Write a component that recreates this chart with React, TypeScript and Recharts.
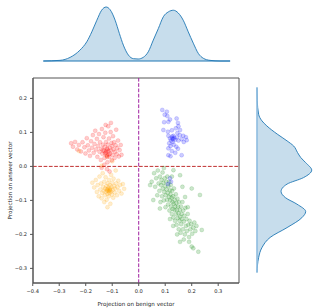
import React from "react";
import {
  ScatterChart,
  Scatter,
  AreaChart,
  Area,
  XAxis,
  YAxis,
  ReferenceLine,
  ReferenceArea,
  Label,
} from "recharts";

// marginal density on top (x projection)
const topX = [
  -0.36, -0.297, -0.259, -0.222, -0.196, -0.177, -0.158, -0.14, -0.123, -0.108, -0.089, -0.073,
  -0.058, -0.039, -0.02, -0.002, 0.017, 0.036, 0.055, 0.074, 0.093, 0.112, 0.131, 0.149, 0.168,
  0.187, 0.206, 0.225, 0.244, 0.269, 0.307, 0.345,
];
const topDensity = [
  0, 0.012, 0.067, 0.2, 0.356, 0.54, 0.755, 0.94, 1.0, 0.95, 0.755, 0.51, 0.294, 0.11, 0.043,
  0.037, 0.067, 0.17, 0.387, 0.6, 0.82, 0.91, 0.94, 0.89, 0.755, 0.54, 0.33, 0.14, 0.05, 0.012, 0,
  0,
];

// marginal density on the right (y projection)
const rightY = [
  -0.315, -0.276, -0.236, -0.217, -0.202, -0.178, -0.158, -0.143, -0.124, -0.109, -0.094, -0.072,
  -0.05, -0.031, -0.009, 0.009, 0.028, 0.05, 0.068, 0.097, 0.126, 0.156, 0.185, 0.229,
];
const rightDensity = [
  0, 0.005, 0.03, 0.09, 0.18, 0.37, 0.55, 0.67, 0.74, 0.8, 0.89, 1.0, 0.85, 0.55, 0.44, 0.52, 0.73,
  0.89, 0.82, 0.55, 0.24, 0.09, 0.03, 0,
];

const xTicks = [-0.4, -0.3, -0.2, -0.1, 0, 0.1, 0.2, 0.3];
const yTicks = [-0.3, -0.2, -0.1, 0, 0.1, 0.2];

const orangePts: [number, number][] = [
  [-0.175, -0.048], [-0.168, -0.062], [-0.162, -0.04], [-0.158, -0.075], [-0.155, -0.055],
  [-0.151, -0.088], [-0.148, -0.03], [-0.145, -0.068], [-0.142, -0.05], [-0.14, -0.094],
  [-0.138, -0.078], [-0.136, -0.02], [-0.134, -0.06], [-0.132, -0.072], [-0.13, -0.045],
  [-0.128, -0.085], [-0.127, -0.065], [-0.125, -0.032], [-0.124, -0.075], [-0.122, -0.058],
  [-0.121, -0.098], [-0.119, -0.068], [-0.118, -0.081], [-0.117, -0.05], [-0.115, -0.072],
  [-0.114, -0.062], [-0.113, -0.088], [-0.112, -0.04], [-0.111, -0.07], [-0.11, -0.078],
  [-0.109, -0.055], [-0.108, -0.066], [-0.107, -0.11], [-0.105, -0.074], [-0.104, -0.025],
  [-0.103, -0.06], [-0.101, -0.083], [-0.1, -0.048], [-0.098, -0.069], [-0.096, -0.092],
  [-0.095, -0.036], [-0.093, -0.058], [-0.091, -0.077], [-0.089, -0.065], [-0.087, -0.012],
  [-0.085, -0.05], [-0.082, -0.085], [-0.08, -0.061], [-0.077, -0.042], [-0.074, -0.072],
  [-0.07, -0.055], [-0.065, -0.08], [-0.06, -0.052], [-0.055, -0.066], [-0.118, -0.12],
  [-0.13, -0.105], [-0.116, -0.066], [-0.112, -0.074], [-0.12, -0.071], [-0.108, -0.07],
  [-0.225, 0.045], [-0.12, 0.03], [-0.1, 0.015], [-0.14, 0.002],
];

const redPts: [number, number][] = [
  [-0.255, 0.068], [-0.248, 0.058], [-0.24, 0.072], [-0.232, 0.05], [-0.226, 0.063],
  [-0.218, 0.044], [-0.212, 0.071], [-0.205, 0.056], [-0.201, 0.038], [-0.196, 0.083],
  [-0.192, 0.062], [-0.188, 0.047], [-0.184, 0.031], [-0.18, 0.074], [-0.176, 0.055],
  [-0.173, 0.092], [-0.17, 0.04], [-0.167, 0.066], [-0.164, 0.105], [-0.161, 0.05],
  [-0.158, 0.081], [-0.156, 0.028], [-0.153, 0.06], [-0.15, 0.095], [-0.148, 0.043],
  [-0.146, 0.071], [-0.143, 0.019], [-0.141, 0.052], [-0.139, 0.11], [-0.137, 0.037],
  [-0.135, 0.064], [-0.133, 0.086], [-0.131, 0.045], [-0.129, 0.025], [-0.128, 0.058],
  [-0.126, 0.099], [-0.124, 0.04], [-0.123, 0.072], [-0.121, 0.033], [-0.12, 0.052],
  [-0.118, 0.012], [-0.117, 0.064], [-0.115, 0.118], [-0.114, 0.044], [-0.112, 0.082],
  [-0.111, 0.028], [-0.109, 0.055], [-0.108, 0.038], [-0.106, 0.101], [-0.105, 0.047],
  [-0.103, 0.069], [-0.102, 0.018], [-0.1, 0.06], [-0.098, 0.034], [-0.097, 0.089],
  [-0.095, 0.05], [-0.093, 0.071], [-0.091, 0.025], [-0.089, 0.043], [-0.087, 0.062],
  [-0.085, 0.108], [-0.083, 0.036], [-0.081, 0.054], [-0.078, 0.076], [-0.075, 0.029],
  [-0.072, 0.048], [-0.068, 0.063], [-0.065, 0.034], [-0.13, 0.005], [-0.12, -0.008],
  [-0.11, -0.015], [-0.14, -0.004], [-0.105, 0.128], [-0.125, 0.122], [-0.135, 0.048],
  [-0.122, 0.045], [-0.118, 0.05], [-0.127, 0.038], [-0.113, 0.035], [-0.119, 0.028],
];

const greenPts: [number, number][] = [
  [0.049, -0.045], [0.058, -0.02], [0.062, -0.06], [0.066, -0.035], [0.07, -0.085],
  [0.072, -0.012], [0.075, -0.05], [0.078, -0.072], [0.08, -0.03], [0.082, -0.105],
  [0.084, -0.055], [0.086, -0.04], [0.088, -0.088], [0.09, -0.018], [0.091, -0.065],
  [0.093, -0.048], [0.095, -0.1], [0.096, -0.075], [0.098, -0.035], [0.1, -0.058],
  [0.101, -0.12], [0.102, -0.085], [0.104, -0.045], [0.105, -0.068], [0.107, -0.098],
  [0.108, -0.03], [0.11, -0.078], [0.111, -0.112], [0.112, -0.058], [0.114, -0.09],
  [0.115, -0.045], [0.116, -0.13], [0.118, -0.07], [0.119, -0.1], [0.12, -0.082],
  [0.121, -0.055], [0.122, -0.118], [0.124, -0.092], [0.125, -0.14], [0.126, -0.072],
  [0.127, -0.105], [0.128, -0.125], [0.13, -0.088], [0.131, -0.15], [0.132, -0.11],
  [0.133, -0.065], [0.135, -0.128], [0.136, -0.098], [0.137, -0.16], [0.138, -0.118],
  [0.14, -0.082], [0.141, -0.14], [0.142, -0.108], [0.143, -0.172], [0.144, -0.128],
  [0.146, -0.095], [0.147, -0.152], [0.148, -0.118], [0.15, -0.138], [0.151, -0.185],
  [0.152, -0.105], [0.154, -0.16], [0.155, -0.128], [0.156, -0.148], [0.158, -0.195],
  [0.159, -0.118], [0.16, -0.17], [0.162, -0.14], [0.163, -0.155], [0.165, -0.105],
  [0.167, -0.185], [0.168, -0.13], [0.17, -0.162], [0.172, -0.145], [0.174, -0.2],
  [0.176, -0.122], [0.178, -0.175], [0.18, -0.155], [0.182, -0.19], [0.185, -0.14],
  [0.187, -0.172], [0.19, -0.208], [0.192, -0.16], [0.195, -0.185], [0.198, -0.17],
  [0.2, -0.065], [0.202, -0.198], [0.206, -0.18], [0.21, -0.165], [0.214, -0.19],
  [0.218, -0.175], [0.231, -0.084], [0.238, -0.187], [0.156, -0.222], [0.2, -0.236],
  [0.225, -0.251], [0.206, -0.241], [0.145, -0.2], [0.13, -0.175], [0.055, -0.099],
  [0.08, -0.124], [0.131, -0.011], [0.156, -0.026], [0.095, -0.005], [0.165, -0.06],
  [0.175, -0.09], [0.185, -0.12], [0.118, -0.155], [0.19, -0.222], [0.17, -0.215],
  [0.043, -0.055], [0.125, -0.03],
];

const bluePts: [number, number][] = [
  [0.089, 0.166], [0.098, 0.152], [0.106, 0.161], [0.108, 0.148], [0.118, 0.138],
  [0.096, 0.13], [0.112, 0.131], [0.143, 0.141], [0.148, 0.128], [0.15, 0.118],
  [0.14, 0.112], [0.093, 0.107], [0.11, 0.102], [0.125, 0.106], [0.146, 0.098],
  [0.156, 0.107], [0.155, 0.092], [0.168, 0.09], [0.178, 0.086], [0.181, 0.077],
  [0.112, 0.09], [0.118, 0.082], [0.122, 0.076], [0.126, 0.088], [0.13, 0.08],
  [0.134, 0.084], [0.128, 0.072], [0.138, 0.078], [0.144, 0.086], [0.15, 0.076],
  [0.162, 0.08], [0.17, 0.072], [0.115, 0.068], [0.12, 0.06], [0.132, 0.064],
  [0.142, 0.058], [0.112, 0.053], [0.125, 0.045], [0.138, 0.04], [0.112, 0.033],
  [0.12, 0.03], [0.162, 0.033], [0.148, 0.052], [0.126, 0.083], [0.131, 0.09],
  [0.118, -0.035], [0.122, -0.045], [0.11, -0.052],
];

const W = 319;
const H = 308;
const font = "DejaVu Sans, sans-serif";
const kdeBlue = "#1f77b4";

const toXY = (pts: [number, number][]) => pts.map(([x, y]) => ({ x, y }));
const topData = topX.map((x, i) => ({ x, d: topDensity[i] }));
const rightData = rightY.map((y, i) => ({ y, d: rightDensity[i] }));
const fmt = (v: number) => (v < 0 ? "\u2212" + Math.abs(v).toFixed(1) : v.toFixed(1));

const dot = (color: string) => (props: any) => (
  <circle
    cx={props.cx}
    cy={props.cy}
    r={2}
    fill={color}
    fillOpacity={0.2}
    stroke={color}
    strokeOpacity={0.22}
    strokeWidth={0.6}
  />
);

const tick = { fill: "#222", fontSize: 5.1, fontFamily: font };
const xDomain: [number, number] = [-0.399, 0.3785];
const yDomain: [number, number] = [-0.343, 0.26];

export default function App() {
  return (
    <div style={{ position: "absolute", left: 0, top: 0, width: W, height: H, background: "#fff" }}>
      <div style={{ position: "absolute", left: 0, top: 0 }}>
        <ScatterChart width={W} height={H} margin={{ top: 78, right: 80, bottom: 0, left: 0 }}>
          <XAxis
            type="number"
            dataKey="x"
            domain={xDomain}
            ticks={xTicks}
            tickFormatter={fmt}
            allowDataOverflow
            height={25}
            tick={tick}
            tickSize={3}
            tickMargin={3}
            stroke="#555"
          >
            <Label
              position="insideBottom"
              offset={2}
              value="Projection on benign vector"
              style={{ fontSize: 5.6, fontFamily: font, fill: "#222" }}
            />
          </XAxis>
          <YAxis
            type="number"
            dataKey="y"
            domain={yDomain}
            ticks={yTicks}
            tickFormatter={fmt}
            allowDataOverflow
            width={33}
            tick={tick}
            tickSize={3}
            tickMargin={3}
            stroke="#555"
          >
            <Label
              content={(p: any) => {
                const vb = p.viewBox || { x: 0, y: 78, width: 33, height: 205 };
                const cy = vb.y + vb.height / 2;
                return (
                  <text
                    x={10}
                    y={cy}
                    transform={`rotate(-90 10 ${cy})`}
                    textAnchor="middle"
                    dominantBaseline="central"
                    style={{ fontSize: 5.6, fontFamily: font, fill: "#222" }}
                  >
                    Projection on answer vector
                  </text>
                );
              }}
            />
          </YAxis>
          <Scatter data={toXY(orangePts)} shape={dot("orange")} isAnimationActive={false} />
          <Scatter data={toXY(redPts)} shape={dot("red")} isAnimationActive={false} />
          <Scatter data={toXY(greenPts)} shape={dot("green")} isAnimationActive={false} />
          <Scatter data={toXY(bluePts)} shape={dot("blue")} isAnimationActive={false} />
          <ReferenceLine y={0} stroke="#c03030" strokeWidth={1} strokeDasharray="3.7 1.6" />
          <ReferenceLine x={0} stroke="#a020a0" strokeWidth={1} strokeDasharray="3.7 1.6" />
          <ReferenceArea
            x1={xDomain[0]}
            x2={xDomain[1]}
            y1={yDomain[0]}
            y2={yDomain[1]}
            fill="none"
            stroke="#555"
            strokeWidth={1}
            ifOverflow="visible"
          />
        </ScatterChart>
      </div>

      <div style={{ position: "absolute", left: 0, top: 0 }}>
        <AreaChart width={W} height={70} data={topData} margin={{ top: 7, right: 80, bottom: 9, left: 33 }}>
          <XAxis type="number" dataKey="x" domain={xDomain} hide />
          <YAxis type="number" domain={[0, 1]} hide />
          <Area
            type="monotone"
            dataKey="d"
            stroke={kdeBlue}
            strokeWidth={0.9}
            fill={kdeBlue}
            fillOpacity={0.25}
            isAnimationActive={false}
          />
          <ReferenceLine
            segment={[
              { x: topX[0], y: 0 },
              { x: topX[topX.length - 1], y: 0 },
            ]}
            stroke={kdeBlue}
            strokeWidth={1}
            ifOverflow="visible"
          />
        </AreaChart>
      </div>

      <div style={{ position: "absolute", left: 0, top: 0 }}>
        <AreaChart
          width={W}
          height={H}
          data={rightData}
          layout="vertical"
          margin={{ top: 78, right: 7.3, bottom: 25, left: 257 }}
        >
          <XAxis type="number" domain={[0, 1]} hide />
          <YAxis type="number" dataKey="y" domain={yDomain} hide />
          <Area
            type="monotone"
            dataKey="d"
            stroke={kdeBlue}
            strokeWidth={0.9}
            fill={kdeBlue}
            fillOpacity={0.25}
            isAnimationActive={false}
          />
          <ReferenceLine
            segment={[
              { x: 0, y: rightY[0] },
              { x: 0, y: rightY[rightY.length - 1] },
            ]}
            stroke="#8fbde0"
            strokeWidth={1.6}
            ifOverflow="visible"
          />
        </AreaChart>
      </div>
    </div>
  );
}
